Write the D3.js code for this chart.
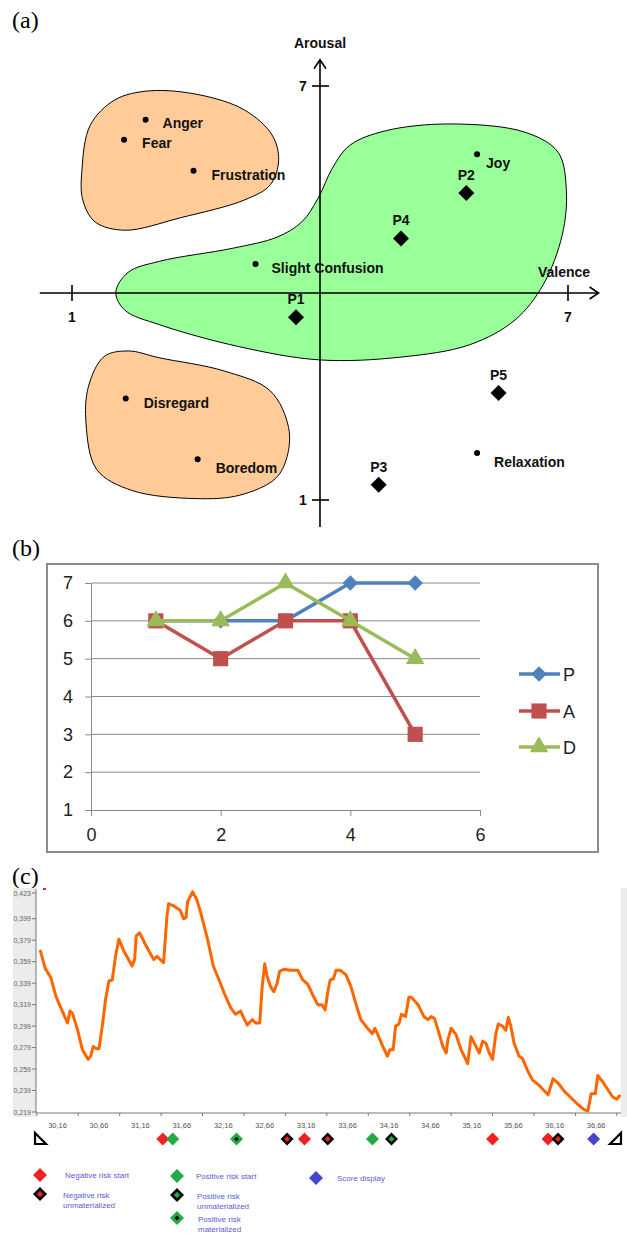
<!DOCTYPE html>
<html>
<head>
<meta charset="utf-8">
<script src="https://cdn.jsdelivr.net/npm/d3@7"></script>
<style>
  body { margin:0; background:#fff; }
  svg text { font-family: "Liberation Sans", Arial, sans-serif; }
</style>
</head>
<body>
<svg id="fig" width="627" height="1236"></svg>
<script>
// ---------- data: (a) valence / arousal plane
var emotionNames   = ["Anger", "Fear", "Frustration", "Slight Confusion", "Joy", "Disregard", "Boredom", "Relaxation"];
var emotionValence = [1.89, 1.63, 2.47, 3.22, 5.90, 1.65, 2.52, 5.90];
var emotionArousal = [6.51, 6.22, 5.77, 4.42, 6.01, 2.47, 1.59, 1.68];

var pointNames   = ["P1", "P2", "P3", "P4", "P5"];
var pointValence = [3.71, 5.77, 4.71, 4.98, 6.16];
var pointArousal = [3.65, 5.45, 1.22, 4.79, 2.55];

// region outlines, [valence, arousal]
var angerRegion = [[1.12,5.78],[1.22,6.43],[1.52,6.80],[1.94,6.93],[2.55,6.87],[3.09,6.65],[3.42,6.29],[3.50,5.93],[3.40,5.57],[3.09,5.35],[2.31,5.09],[1.64,4.91],[1.28,5.03],[1.13,5.35]];
var joyRegion   = [[1.53,4.01],[1.68,4.30],[2.06,4.46],[2.95,4.65],[3.48,4.81],[3.78,5.03],[3.98,5.38],[4.15,5.81],[4.36,6.14],[4.79,6.35],[5.57,6.45],[6.48,6.33],[6.88,6.04],[6.98,5.49],[6.93,4.84],[6.70,4.12],[6.36,3.61],[5.81,3.25],[4.97,3.07],[4.00,3.03],[3.03,3.22],[2.06,3.54],[1.64,3.75]];
var boredRegion = [[1.68,3.16],[2.06,3.06],[2.84,2.87],[3.40,2.58],[3.62,2.05],[3.60,1.62],[3.46,1.31],[3.03,1.07],[2.50,1.02],[1.72,1.14],[1.30,1.44],[1.17,2.10],[1.20,2.65],[1.39,3.08]];

// ---------- data: (b) P, A, D per step
var steps   = [1, 2, 3, 4, 5];
var seriesP = [6, 6, 6, 7, 7];
var seriesA = [6, 5, 6, 6, 3];
var seriesD = [6, 6, 7, 6, 5];
var bXTicks = [0, 2, 4, 6];
var bYTicks = [1, 2, 3, 4, 5, 6, 7];

// ---------- data: (c) score trace and risk events
var timeX = [29.95,30.01,30.08,30.14,30.20,30.28,30.31,30.34,30.40,30.46,
  30.53,30.56,30.59,30.63,30.66,30.70,30.74,30.78,30.82,30.86,
  30.90,30.96,31.06,31.09,31.11,31.15,31.22,31.32,31.36,31.44,
  31.46,31.48,31.50,31.56,31.64,31.68,31.71,31.73,31.79,31.84,
  31.89,31.97,32.04,32.11,32.17,32.25,32.31,32.37,32.41,32.45,
  32.51,32.55,32.60,32.63,32.66,32.69,32.73,32.77,32.81,32.84,
  32.89,32.97,33.06,33.12,33.18,33.24,33.30,33.35,33.39,33.42,
  33.45,33.49,33.52,33.57,33.64,33.70,33.76,33.82,33.90,33.96,
  33.99,34.02,34.08,34.14,34.17,34.21,34.24,34.28,34.31,34.36,
  34.40,34.43,34.51,34.58,34.63,34.67,34.71,34.75,34.81,34.85,
  34.87,34.91,34.97,35.03,35.11,35.15,35.21,35.25,35.29,35.33,
  35.37,35.41,35.45,35.48,35.53,35.57,35.60,35.63,35.67,35.73,
  35.77,35.83,35.89,35.97,36.08,36.14,36.20,36.28,36.36,36.44,
  36.52,36.56,36.60,36.65,36.68,36.74,36.80,36.86,36.91,36.95];
var scoreY = [0.370,0.353,0.344,0.327,0.316,0.302,0.313,0.311,0.296,0.277,
  0.268,0.271,0.280,0.278,0.278,0.299,0.324,0.341,0.342,0.364,
  0.380,0.369,0.355,0.361,0.383,0.386,0.375,0.361,0.364,0.358,
  0.380,0.401,0.413,0.411,0.407,0.399,0.400,0.415,0.424,0.417,
  0.404,0.380,0.355,0.342,0.330,0.316,0.310,0.313,0.306,0.300,
  0.305,0.302,0.302,0.336,0.357,0.345,0.336,0.331,0.339,0.350,
  0.352,0.351,0.351,0.342,0.338,0.328,0.319,0.319,0.314,0.330,
  0.342,0.343,0.351,0.351,0.347,0.336,0.320,0.305,0.297,0.292,
  0.297,0.292,0.281,0.271,0.277,0.277,0.299,0.301,0.310,0.308,
  0.326,0.326,0.319,0.308,0.305,0.308,0.306,0.296,0.280,0.274,
  0.286,0.297,0.291,0.277,0.264,0.289,0.280,0.274,0.285,0.283,
  0.274,0.268,0.292,0.301,0.299,0.295,0.307,0.299,0.283,0.271,
  0.269,0.258,0.249,0.244,0.235,0.250,0.246,0.238,0.232,0.226,
  0.221,0.220,0.236,0.236,0.253,0.247,0.240,0.233,0.231,0.235];
var cXLabels = [30.16, 30.66, 31.16, 31.66, 32.16, 32.66, 33.16, 33.66, 34.16, 34.66, 35.16, 35.66, 36.16, 36.66];
var cYLabels = [0.219, 0.239, 0.259, 0.279, 0.299, 0.319, 0.339, 0.359, 0.379, 0.399, 0.423];
var eventTimes = [31.43, 31.55, 32.32, 32.93, 33.14, 33.42, 33.96, 34.19, 35.41, 36.08, 36.20, 36.63];
var eventTypes = ["negStart","posStart","posMat","negUnmat","negStart","negUnmat","posStart","posUnmat","negStart","negStart","negUnmat","score"];
var legendTypes  = ["negStart", "negUnmat", "posStart", "posUnmat", "posMat", "score"];
var legendLabels = [["Negative risk start"], ["Negative risk", "unmaterialized"], ["Positive risk start"],
                    ["Positive risk", "unmaterialized"], ["Positive risk", "materialized"], ["Score display"]];

// ---------- layout
var svg = d3.select("#fig");
svg.append("rect").attr("width", 627).attr("height", 1236).attr("fill", "#fff");

panelTag = function(txt, x, y) {
    svg.append("text").attr("x", x).attr("y", y).text(txt)
        .style("font-family", "'Liberation Serif', 'Times New Roman', serif")
        .style("font-size", "24px").attr("fill", "#000");
};
diamondPath = function(cx, cy, r) {
    return "M" + cx + "," + (cy - r) + "L" + (cx + r) + "," + cy +
           "L" + cx + "," + (cy + r) + "L" + (cx - r) + "," + cy + "Z";
};

// ================= (a)
panelTag("(a)", 12, 28);
var xa = d3.scaleLinear().domain([1, 7]).range([72, 568]);
var ya = d3.scaleLinear().domain([1, 7]).range([500, 86]);
var ga = svg.append("g");

regionLine = d3.line()
    .x(function(d) { return xa(d[0]); })
    .y(function(d) { return ya(d[1]); })
    .curve(d3.curveCatmullRomClosed.alpha(0.5));
ga.selectAll("path.region")
    .data([[angerRegion, "#ffcc99"], [joyRegion, "#99ff99"], [boredRegion, "#ffcc99"]])
    .enter().append("path")
        .attr("d", function(d) { return regionLine(d[0]); })
        .attr("fill", function(d) { return d[1]; })
        .attr("stroke", "#000").attr("stroke-width", 1);

// axes with open arrow heads
var axX0 = xa(0.61), axX1 = xa(7.37), axY0 = ya(0.61), axY1 = ya(7.38);
var ox = xa(4), oy = ya(4);
ga.append("line").attr("x1", axX0).attr("x2", axX1).attr("y1", oy).attr("y2", oy);
ga.append("line").attr("x1", ox).attr("x2", ox).attr("y1", axY0).attr("y2", axY1);
ga.append("path").attr("d", "M" + (axX1 - 9) + "," + (oy - 6) + "L" + axX1 + "," + oy + "L" + (axX1 - 9) + "," + (oy + 6));
ga.append("path").attr("d", "M" + (ox - 6) + "," + (axY1 + 9) + "L" + ox + "," + axY1 + "L" + (ox + 6) + "," + (axY1 + 9));
[1, 7].forEach(function(v) {
    ga.append("line").attr("x1", xa(v)).attr("x2", xa(v)).attr("y1", oy - 8).attr("y2", oy + 8);
    ga.append("line").attr("x1", ox - 8).attr("x2", ox + 9).attr("y1", ya(v)).attr("y2", ya(v));
    ga.append("text").attr("x", xa(v)).attr("y", oy + 29).attr("text-anchor", "middle").text(v);
    ga.append("text").attr("x", ox - 17).attr("y", ya(v) + 5).attr("text-anchor", "middle").text(v);
});
ga.selectAll("line, path:not([fill])").attr("stroke", "#000").attr("stroke-width", 1.6).attr("fill", "none");
ga.append("text").attr("x", ox).attr("y", 48).attr("text-anchor", "middle").text("Arousal");
ga.append("text").attr("x", 564).attr("y", 277).attr("text-anchor", "middle").text("Valence");

// emotion anchors
var labelDx = [17, 18, 18, 16, 9, 18, 18, 17];
var labelDy = [8, 8, 9, 9, 14, 9, 14, 14];
var emo = ga.selectAll("g.emo").data(emotionNames).enter().append("g");
emo.append("circle")
    .attr("cx", function(d, i) { return xa(emotionValence[i]); })
    .attr("cy", function(d, i) { return ya(emotionArousal[i]); })
    .attr("r", 3).attr("fill", "#000");
emo.append("text")
    .attr("x", function(d, i) { return xa(emotionValence[i]) + labelDx[i]; })
    .attr("y", function(d, i) { return ya(emotionArousal[i]) + labelDy[i]; })
    .text(function(d) { return d; });

// measured points
var pts = ga.selectAll("g.pt").data(pointNames).enter().append("g");
pts.append("path")
    .attr("d", function(d, i) { return diamondPath(xa(pointValence[i]), ya(pointArousal[i]), 8); })
    .attr("fill", "#000");
pts.append("text")
    .attr("x", function(d, i) { return xa(pointValence[i]); })
    .attr("y", function(d, i) { return ya(pointArousal[i]) - 13; })
    .attr("text-anchor", "middle")
    .text(function(d) { return d; });
ga.selectAll("text").style("font-size", "14px").style("font-weight", "bold").attr("fill", "#111");

// ================= (b)
panelTag("(b)", 12, 556);
var xb = d3.scaleLinear().domain([0, 6]).range([91, 480]);
var yb = d3.scaleLinear().domain([1, 7]).range([810, 583]);
var gb = svg.append("g");
gb.append("rect").attr("x", 47).attr("y", 564).attr("width", 551).attr("height", 288)
    .attr("fill", "#fff").attr("stroke", "#8c8c8c").attr("stroke-width", 2);
gb.selectAll("line.grid").data(bYTicks.slice(1)).enter().append("line")
    .attr("x1", xb(0)).attr("x2", xb(6))
    .attr("y1", function(d) { return yb(d); }).attr("y2", function(d) { return yb(d); })
    .attr("stroke", "#8a8a8a").attr("stroke-width", 1);
var bFont = "'Liberation Sans Narrow', 'Liberation Sans', sans-serif";
var yAx = gb.append("g").attr("transform", "translate(" + xb(0) + ",0)")
    .call(d3.axisLeft(yb).tickValues(bYTicks).tickFormat(d3.format("d"))
        .tickSize(6).tickSizeOuter(0).tickPadding(12));
var xAx = gb.append("g").attr("transform", "translate(0," + yb(1) + ")")
    .call(d3.axisBottom(xb).tickValues(bXTicks).tickFormat(d3.format("d"))
        .tickSize(6).tickSizeOuter(0).tickPadding(12));
[yAx, xAx].forEach(function(a) {
    a.select(".domain").attr("stroke", "#8a8a8a");
    a.selectAll(".tick line").attr("stroke", "#8a8a8a");
    a.selectAll("text").style("font-family", bFont).style("font-size", "18px").attr("fill", "#222");
});

var bSeries = [
    { name: "P", vals: seriesP, color: "#4f81bd", sym: d3.symbolSquare, size: 120, rot: 45 },
    { name: "A", vals: seriesA, color: "#c0504d", sym: d3.symbolSquare, size: 230, rot: 0 },
    { name: "D", vals: seriesD, color: "#9bbb59", sym: d3.symbolTriangle, size: 150, rot: 0 }
];
var bLine = d3.line().x(function(d) { return xb(d[0]); }).y(function(d) { return yb(d[1]); });
var legendY = [674, 711, 747];
bSeries.forEach(function(s, k) {
    var pts = steps.map(function(x, i) { return [x, s.vals[i]]; });
    gb.append("path").attr("d", bLine(pts)).attr("fill", "none")
        .attr("stroke", s.color).attr("stroke-width", 3.5);
    gb.selectAll(null).data(pts).enter().append("path")
        .attr("d", d3.symbol().type(s.sym).size(s.size))
        .attr("transform", function(d) { return "translate(" + xb(d[0]) + "," + yb(d[1]) + ") rotate(" + s.rot + ")"; })
        .attr("fill", s.color);
    // legend
    gb.append("line").attr("x1", 519).attr("x2", 560).attr("y1", legendY[k]).attr("y2", legendY[k])
        .attr("stroke", s.color).attr("stroke-width", 3.5);
    gb.append("path").attr("d", d3.symbol().type(s.sym).size(s.size))
        .attr("transform", "translate(539," + legendY[k] + ") rotate(" + s.rot + ")")
        .attr("fill", s.color);
    gb.append("text").attr("x", 563).attr("y", legendY[k] + 7).text(s.name)
        .style("font-family", bFont).style("font-size", "18px").attr("fill", "#222");
});

// ================= (c)
panelTag("(c)", 12, 884);
var xc = d3.scaleLinear().domain([29.90, 36.96]).range([36, 621]);
var yc = d3.scaleLinear().domain([0.219, 0.423]).range([1112, 893]);
var gc = svg.append("g");
gc.append("rect").attr("x", 13).attr("y", 888).attr("width", 23).attr("height", 229).attr("fill", "#ececec");
gc.append("rect").attr("x", 621).attr("y", 888).attr("width", 6).attr("height", 229).attr("fill", "#ececec");
gc.append("rect").attr("x", 43).attr("y", 888).attr("width", 3).attr("height", 2).attr("fill", "#ee2222");
gc.append("line").attr("x1", 36).attr("x2", 36).attr("y1", 889).attr("y2", 1113).attr("stroke", "#777");
gc.append("line").attr("x1", 36).attr("x2", 621).attr("y1", 1113).attr("y2", 1113).attr("stroke", "#777");

var fmtComma = function(v, n) { return v.toFixed(n).replace(".", ","); };
gc.selectAll("g.yt").data(cYLabels).enter().append("g").each(function(d) {
    var g = d3.select(this), y = yc(d);
    g.append("line").attr("x1", 32).attr("x2", 36).attr("y1", y).attr("y2", y).attr("stroke", "#777");
    g.append("text").attr("x", 31).attr("y", y + 2.5).attr("text-anchor", "end").text(fmtComma(d, 3))
        .style("font-size", "7px").attr("fill", "#666");
});
d3.range(0, 15).forEach(function(k) {
    var x = xc(29.91 + 0.5 * k);
    gc.append("line").attr("x1", x).attr("x2", x).attr("y1", 1113).attr("y2", 1116).attr("stroke", "#777");
});
gc.selectAll("text.xt").data(cXLabels).enter().append("text")
    .attr("x", function(d) { return xc(d); }).attr("y", 1128)
    .attr("text-anchor", "middle").text(function(d) { return fmtComma(d, 2); })
    .style("font-size", "7.5px").attr("fill", "#555");

var cLine = d3.line()
    .x(function(d, i) { return xc(timeX[i]); })
    .y(function(d) { return yc(d); });
gc.append("path").attr("d", cLine(scoreY)).attr("fill", "none")
    .attr("stroke", "#ff6600").attr("stroke-width", 3).attr("stroke-linejoin", "round");

// slider ends
gc.append("path").attr("d", "M35,1133L35,1144L46,1144Z").attr("fill", "none").attr("stroke", "#000").attr("stroke-width", 2.2);
gc.append("path").attr("d", "M621,1133L621,1144L610,1144Z").attr("fill", "none").attr("stroke", "#000").attr("stroke-width", 2.2);

riskMarker = function(g, type, cx, cy, r) {
    var red = "#ee2222", green = "#22aa44", blue = "#4444cc";
    if (type == "negStart") g.append("path").attr("d", diamondPath(cx, cy, r)).attr("fill", red);
    if (type == "posStart") g.append("path").attr("d", diamondPath(cx, cy, r)).attr("fill", green);
    if (type == "score")    g.append("path").attr("d", diamondPath(cx, cy, r)).attr("fill", blue);
    if (type == "negUnmat" || type == "posUnmat") {
        g.append("path").attr("d", diamondPath(cx, cy, r)).attr("fill", "#000");
        g.append("path").attr("d", diamondPath(cx, cy, r * 0.45)).attr("fill", type == "negUnmat" ? red : green);
    }
    if (type == "posMat") {
        g.append("path").attr("d", diamondPath(cx, cy, r)).attr("fill", green);
        g.append("path").attr("d", diamondPath(cx, cy, r * 0.35)).attr("fill", "#000");
    }
};
eventTimes.forEach(function(t, i) { riskMarker(gc, eventTypes[i], xc(t), 1139, 6.5); });

// legend
var legX  = [40, 40, 177, 177, 177, 316];
var legY  = [1175, 1194, 1176, 1195, 1218, 1178];
var legTx = [65, 63, 196, 197, 198, 337];
legendTypes.forEach(function(t, i) {
    riskMarker(gc, t, legX[i], legY[i], 7);
    legendLabels[i].forEach(function(s, j) {
        gc.append("text").attr("x", legTx[i]).attr("y", legY[i] + 3 + (j == 0 && legendLabels[i].length > 1 ? 1 : 0) + j * 11)
            .text(s).style("font-size", "8px").attr("fill", "#5a5ad6");
    });
});
</script>
</body>
</html>
